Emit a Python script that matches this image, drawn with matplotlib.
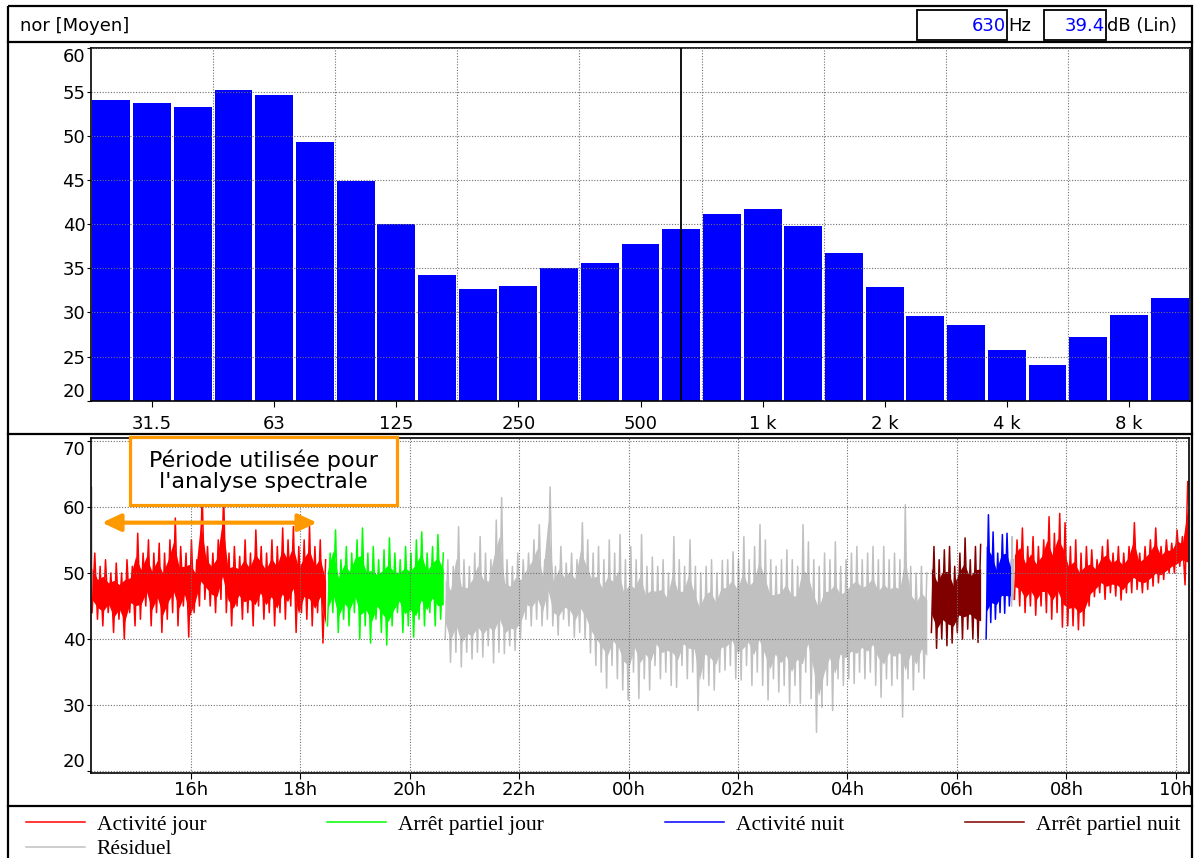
import numpy as np
import matplotlib
matplotlib.use('Agg')
from matplotlib import pyplot as plt
from matplotlib.patches import Rectangle

W, H = 1194, 858

# spectre moyen 1/3 octave (dB Lin)
bands = ['25', '31.5', '40', '50', '63', '80', '100', '125', '160', '200', '250', '315',
         '400', '500', '630', '800', '1 k', '1.25 k', '1.6 k', '2 k', '2.5 k', '3.15 k',
         '4 k', '5 k', '6.3 k', '8 k', '10 k']
levels = [54.1, 53.7, 53.3, 55.2, 54.6, 49.3, 44.9, 40.0, 34.2, 32.7, 33.0, 35.0,
          35.6, 37.8, 39.4, 41.1, 41.7, 39.8, 36.7, 32.9, 29.6, 28.6,
          25.7, 24.0, 27.2, 29.7, 31.6]
labelled_bands = ['31.5', '63', '125', '250', '500', '1 k', '2 k', '4 k', '8 k']
cursor_band = '630'

# evolution temporelle, valeurs lues (min/max alternes)
residuel_a = [44, 63, 45, 50]
activite_jour_a = [44, 53, 43, 51, 42, 52, 44, 50, 41, 51.5, 43, 50, 40, 52, 44, 51, 42, 56,
                   43, 53, 45, 55, 42, 53, 44, 54.5, 41, 53, 43, 55, 44, 58.3, 42, 54, 45, 53,
                   40.3, 55, 44, 52, 45, 62, 46, 54, 45, 53, 44, 55, 46, 62, 44, 53, 42, 54,
                   45, 52.5, 43, 55, 44, 53, 42, 56.5, 45, 54, 43, 53, 44, 55, 42, 54, 44, 56.8,
                   43, 55, 45, 57, 41, 54, 44, 55, 43, 57, 42, 54, 44, 55, 39.4, 52]
arret_jour = [42, 53, 44, 56.5, 41, 52, 43, 54, 42, 53, 44, 55, 40, 56.8, 42, 53, 39.4, 54,
              43, 52, 41, 53.5, 39.1, 55.3, 42, 53, 44, 52, 41, 54, 42, 53, 40.3, 55, 43, 56.2,
              42, 53, 44, 54, 42, 55.8, 43, 53]
residuel_b = [40, 52, 36.5, 51, 38, 57, 35.8, 52, 38, 51, 37, 53, 38, 55.5, 37.3, 53, 39, 52,
              36.4, 58, 38, 61.4, 37.8, 52, 39, 51, 38.3, 53, 40, 52, 43, 53, 42, 55, 43, 57.3,
              42, 52, 43, 63, 42, 51, 40.6, 54, 43, 51.5, 42, 53, 40.3, 52, 41, 57.6, 40, 55,
              37.9, 53, 36, 54, 35, 52, 32.6, 55, 36, 53, 34, 55.8, 32.3, 52, 30.8, 54, 35, 52,
              31, 55.8, 34, 51, 32.3, 52.4, 36, 51, 34, 52, 35, 50, 33, 55.5, 32.7, 52, 36, 51,
              34, 55, 35, 51, 29.2, 50, 34, 51, 33, 52, 32.3, 50, 35, 51.9, 35.3, 52, 36, 53.2,
              34, 52, 33.8, 55.5, 36, 52, 33, 54, 35, 57.3, 33, 55, 30.8, 52, 34, 51, 32, 52,
              33, 53.5, 30.3, 52, 33, 51, 30.3, 57.3, 35, 54.7, 31, 52, 25.9, 51, 29.7, 53,
              33, 52, 29.2, 54.7, 34, 51, 33, 52, 34, 53, 33.3, 54, 35, 52, 34, 53, 35, 54,
              33, 52, 31.2, 54, 34, 52, 33, 53, 34, 52, 28.2, 60.3, 34, 51, 32.3, 50, 35, 51,
              34, 50]
arret_nuit = [41, 54, 38.6, 52, 40, 53.5, 39, 54, 39.4, 51, 41, 53, 40, 55.3, 41.5, 52,
              40, 54, 39.5, 54.3]
activite_nuit = [40, 58.8, 42.5, 56.2, 43, 53, 44, 55.8, 43.9, 56, 45, 52]
residuel_c = [45, 55.5, 46, 52]
activite_jour_b = [46, 55, 45, 56.8, 44, 54, 45, 55.5, 43.6, 54, 45, 55, 44, 58.5, 43, 56,
                   44, 59, 41.8, 57.6, 42, 54, 42, 55, 41.4, 53, 42, 54, 45, 53.5, 46.4, 52,
                   47, 54, 46, 55, 47, 53, 46.5, 54, 45.9, 53, 47, 54, 47, 57.6, 47.5, 53,
                   47, 54, 47.5, 55, 48, 56.8, 48.5, 54, 49, 55, 50, 54.5, 50, 56.5, 51, 55.5,
                   48.2, 63.8]

segments = [
    ('Résiduel', '14:11', '14:12', residuel_a),
    ('Activité jour', '14:12', '18:28', activite_jour_a),
    ('Arrêt partiel jour', '18:30', '20:37', arret_jour),
    ('Résiduel', '20:39', '05:27', residuel_b),
    ('Arrêt partiel nuit', '05:32', '06:26', arret_nuit),
    ('Activité nuit', '06:32', '07:00', activite_nuit),
    ('Résiduel', '07:00', '07:02', residuel_c),
    ('Activité jour', '07:03', '10:13', activite_jour_b),
]
colors = {'Activité jour': '#ff0000', 'Arrêt partiel jour': '#00ff00',
          'Activité nuit': '#0000ff', 'Arrêt partiel nuit': '#800000',
          'Résiduel': '#c0c0c0'}
legend_order = ['Activité jour', 'Résiduel', 'Arrêt partiel jour', 'Activité nuit',
                'Arrêt partiel nuit']


def hours(hhmm):
    hh, mm = hhmm.split(':')
    h = int(hh) + int(mm) / 60.0
    if h < 12:
        h += 24
    return h


orange = '#ff9900'
grid_kw = dict(color='#707070', linestyle=(0, (1, 1.5)), linewidth=0.8)

fig = plt.figure(figsize=(W / 100, H / 100), dpi=100)
fig.patch.set_facecolor('white')

# cadre general et entete
ax0 = fig.add_axes([0, 0, 1, 1])
ax0.set_xlim(0, W)
ax0.set_ylim(H, 0)
ax0.axis('off')
ax0.add_patch(Rectangle((8, 6), 1184, 860, fill=False, ec='black', lw=1.6))
for y in (42, 434, 806):
    ax0.plot([8, 1192], [y, y], color='black', lw=1.6)
ax0.add_patch(Rectangle((917, 9.5), 90, 30, fill=False, ec='black', lw=1.3))
ax0.add_patch(Rectangle((1044, 9.5), 62, 30, fill=False, ec='black', lw=1.3))
ax0.text(20, 26, 'nor [Moyen]', fontsize=13, va='center', ha='left')
icur = bands.index(cursor_band)
ax0.text(1006, 26, cursor_band, fontsize=13, va='center', ha='right', color='#0000ff')
ax0.text(1008, 26, 'Hz', fontsize=13, va='center', ha='left')
ax0.text(1105, 26, '%.1f' % levels[icur], fontsize=13, va='center', ha='right', color='#0000ff')
ax0.text(1107, 26, 'dB (Lin)', fontsize=13, va='center', ha='left')

# spectre
ax1 = fig.add_axes([91 / W, 1 - 400.7 / H, 1099 / W, 353.2 / H])
xpos = np.arange(len(bands))
ax1.bar(xpos, levels, width=0.93, color='#0000ff', zorder=1)
ax1.axvline(icur, color='black', lw=1.3, zorder=3)
ax1.set_xlim(-0.5, len(bands) - 0.5)
ax1.set_ylim(20, 60)
ax1.set_xticks([bands.index(b) for b in labelled_bands])
ax1.set_xticklabels(labelled_bands)
ax1.set_xticks(np.arange(2.5, len(bands) - 1, 3), minor=True)
ax1.set_yticks(np.arange(20, 61, 5))
ax1.set_axisbelow(False)
ax1.grid(which='minor', axis='x', **grid_kw)
ax1.grid(which='major', axis='y', **grid_kw)
ax1.tick_params(axis='x', which='minor', length=0)
ax1.tick_params(axis='x', which='major', labelsize=13, length=4, pad=6.5)
ax1.tick_params(axis='y', labelsize=13, length=3, pad=1)
ylabs = ax1.get_yticklabels()
ylabs[-1].set_va('top')
ylabs[0].set_va('bottom')

# evolution temporelle
ax2 = fig.add_axes([91 / W, 1 - 772.7 / H, 1098 / W, 334.7 / H])
handles = {}
for cat, start, end, vals in segments:
    t0, t1 = hours(start), hours(end)
    t = np.linspace(t0, t1, len(vals))
    lo = np.array(vals[0::2])
    hi = np.array(vals[1::2])
    tp = np.linspace(t0, t1, len(lo))
    # coeur dense de la bande
    ax2.fill_between(tp, lo + (hi - lo) * 0.22, hi - (hi - lo) * 0.25,
                     color=colors[cat], lw=0, zorder=1)
    ln, = ax2.plot(t, vals, color=colors[cat], lw=1.1, zorder=1)
    handles.setdefault(cat, ln)
ax2.set_xlim(14.18, 34.24)
ax2.set_ylim(19.8, 70.4)
hticks = np.arange(16, 35, 2)
ax2.set_xticks(hticks)
ax2.set_xticklabels(['%02dh' % (h % 24) for h in hticks])
ax2.set_yticks(np.arange(20, 71, 10))
ax2.set_axisbelow(False)
ax2.grid(True, **grid_kw)
ax2.tick_params(axis='x', labelsize=13, length=4, pad=1.8)
ax2.tick_params(axis='y', labelsize=13, length=3, pad=1)
ylabs = ax2.get_yticklabels()
ylabs[-1].set_va('top')
ylabs[0].set_va('bottom')

for ax in (ax1, ax2):
    for sp in ax.spines.values():
        sp.set_linewidth(1.2)

# periode utilisee pour le spectre
ax2.annotate('', xy=(14.38, 57.6), xytext=(18.31, 57.6),
             arrowprops=dict(arrowstyle='<|-|>,head_length=0.75,head_width=0.35',
                             color=orange, lw=3, mutation_scale=15,
                             shrinkA=0, shrinkB=0), zorder=5)
bx, bw, by, bh = 0.0355, 0.2432, 0.800, 0.2032
ax2.add_patch(Rectangle((bx, by), bw, bh, transform=ax2.transAxes, fc='white',
                        ec=orange, lw=2.3, clip_on=False, zorder=6))
ax2.text(bx + bw / 2, by + bh / 2, "Période utilisée pour\nl'analyse spectrale",
         transform=ax2.transAxes, ha='center', va='center', fontsize=16,
         linespacing=1.1, zorder=7)

fig.legend([handles[c] for c in legend_order], legend_order,
           loc='upper left', bbox_to_anchor=(17 / W, 0, 1172 / W, 52 / H),
           mode='expand', ncol=4, frameon=False,
           prop={'family': 'Liberation Serif', 'size': 15.5},
           handlelength=2.75, handletextpad=0.56, borderaxespad=0,
           borderpad=0.4, labelspacing=0.2)

fig.savefig('out.png', dpi=100, facecolor='white')
